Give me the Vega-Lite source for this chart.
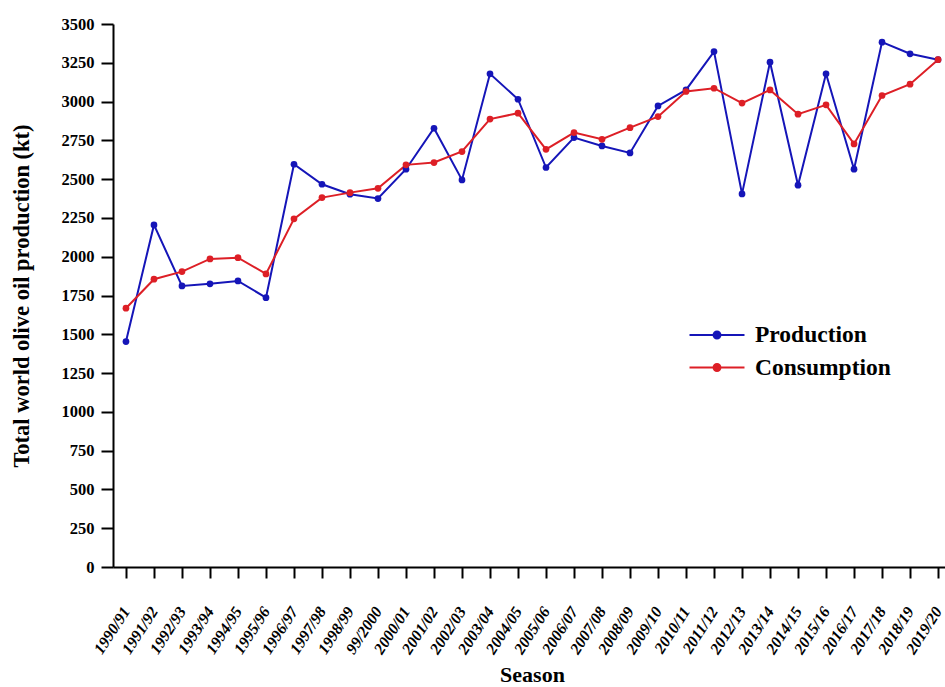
{
  "$schema": "https://vega.github.io/schema/vega-lite/v6.json",
  "autosize": {"type": "none"},
  "padding": {"left": 113, "top": 24, "right": 0, "bottom": 120},
  "width": 838,
  "height": 543,
  "background": "white",
  "config": {
    "view": {"stroke": null},
    "font": "Liberation Serif",
    "axis": {
      "domainColor": "black",
      "domainWidth": 2,
      "tickColor": "black",
      "tickWidth": 2,
      "tickSize": 11,
      "grid": false,
      "labelColor": "black",
      "titleColor": "black",
      "labelFont": "Liberation Serif",
      "titleFont": "Liberation Serif",
      "labelFontWeight": "bold",
      "titleFontWeight": "bold"
    }
  },
  "data": {
    "values": [
      {"season": "1990/91", "series": "Production", "value": 1453},
      {"season": "1991/92", "series": "Production", "value": 2205},
      {"season": "1992/93", "series": "Production", "value": 1812},
      {"season": "1993/94", "series": "Production", "value": 1825},
      {"season": "1994/95", "series": "Production", "value": 1844},
      {"season": "1995/96", "series": "Production", "value": 1736},
      {"season": "1996/97", "series": "Production", "value": 2596},
      {"season": "1997/98", "series": "Production", "value": 2467},
      {"season": "1998/99", "series": "Production", "value": 2403},
      {"season": "99/2000", "series": "Production", "value": 2375},
      {"season": "2000/01", "series": "Production", "value": 2564},
      {"season": "2001/02", "series": "Production", "value": 2828},
      {"season": "2002/03", "series": "Production", "value": 2495},
      {"season": "2003/04", "series": "Production", "value": 3179},
      {"season": "2004/05", "series": "Production", "value": 3015},
      {"season": "2005/06", "series": "Production", "value": 2575},
      {"season": "2006/07", "series": "Production", "value": 2768},
      {"season": "2007/08", "series": "Production", "value": 2714},
      {"season": "2008/09", "series": "Production", "value": 2669},
      {"season": "2009/10", "series": "Production", "value": 2972},
      {"season": "2010/11", "series": "Production", "value": 3075},
      {"season": "2011/12", "series": "Production", "value": 3322},
      {"season": "2012/13", "series": "Production", "value": 2405},
      {"season": "2013/14", "series": "Production", "value": 3254},
      {"season": "2014/15", "series": "Production", "value": 2461},
      {"season": "2015/16", "series": "Production", "value": 3179},
      {"season": "2016/17", "series": "Production", "value": 2564},
      {"season": "2017/18", "series": "Production", "value": 3383},
      {"season": "2018/19", "series": "Production", "value": 3308},
      {"season": "2019/20", "series": "Production", "value": 3270},
      {"season": "1990/91", "series": "Consumption", "value": 1668},
      {"season": "1991/92", "series": "Consumption", "value": 1855},
      {"season": "1992/93", "series": "Consumption", "value": 1904},
      {"season": "1993/94", "series": "Consumption", "value": 1986},
      {"season": "1994/95", "series": "Consumption", "value": 1994},
      {"season": "1995/96", "series": "Consumption", "value": 1889},
      {"season": "1996/97", "series": "Consumption", "value": 2244},
      {"season": "1997/98", "series": "Consumption", "value": 2381},
      {"season": "1998/99", "series": "Consumption", "value": 2413},
      {"season": "99/2000", "series": "Consumption", "value": 2441},
      {"season": "2000/01", "series": "Consumption", "value": 2592},
      {"season": "2001/02", "series": "Consumption", "value": 2607},
      {"season": "2002/03", "series": "Consumption", "value": 2678},
      {"season": "2003/04", "series": "Consumption", "value": 2887},
      {"season": "2004/05", "series": "Consumption", "value": 2925},
      {"season": "2005/06", "series": "Consumption", "value": 2692},
      {"season": "2006/07", "series": "Consumption", "value": 2800},
      {"season": "2007/08", "series": "Consumption", "value": 2757},
      {"season": "2008/09", "series": "Consumption", "value": 2832},
      {"season": "2009/10", "series": "Consumption", "value": 2903},
      {"season": "2010/11", "series": "Consumption", "value": 3065},
      {"season": "2011/12", "series": "Consumption", "value": 3086},
      {"season": "2012/13", "series": "Consumption", "value": 2990},
      {"season": "2013/14", "series": "Consumption", "value": 3075},
      {"season": "2014/15", "series": "Consumption", "value": 2919},
      {"season": "2015/16", "series": "Consumption", "value": 2979},
      {"season": "2016/17", "series": "Consumption", "value": 2727},
      {"season": "2017/18", "series": "Consumption", "value": 3039},
      {"season": "2018/19", "series": "Consumption", "value": 3112},
      {"season": "2019/20", "series": "Consumption", "value": 3270}
    ]
  },
  "mark": {"type": "line", "strokeWidth": 2, "point": {"filled": true, "size": 45, "opacity": 1}},
  "encoding": {
    "x": {
      "field": "season",
      "type": "ordinal",
      "sort": null,
      "scale": {"type": "point", "padding": 0.463},
      "axis": {
        "title": "Season",
        "titleFontSize": 22,
        "titlePadding": 8,
        "labelAngle": -57,
        "labelAlign": "right",
        "labelBaseline": "middle",
        "labelFontSize": 16,
        "labelFontStyle": "italic",
        "labelPadding": 30,
        "labelDx": -4
      }
    },
    "y": {
      "field": "value",
      "type": "quantitative",
      "scale": {"domain": [0, 3500], "nice": false, "zero": true},
      "axis": {
        "title": "Total world olive oil production (kt)",
        "titleFontSize": 22.5,
        "titlePadding": 28,
        "format": "d",
        "values": [0, 250, 500, 750, 1000, 1250, 1500, 1750, 2000, 2250, 2500, 2750, 3000, 3250, 3500],
        "labelFontSize": 16.5,
        "labelPadding": 7,
        "tickSize": 12
      }
    },
    "color": {
      "field": "series",
      "type": "nominal",
      "sort": null,
      "scale": {"domain": ["Production", "Consumption"], "range": ["#1515b8", "#dd1f26"]},
      "legend": {
        "title": null,
        "orient": "none",
        "legendX": 589,
        "legendY": 296,
        "padding": 0,
        "symbolType": "M-2,0H2M0.25,0A0.25,0.25 0 1 1 -0.25,0A0.25,0.25 0 1 1 0.25,0Z",
        "symbolSize": 756,
        "symbolStrokeWidth": 2,
        "labelOffset": 23,
        "rowPadding": 5.5,
        "labelFontSize": 23.5,
        "labelFontWeight": "bold",
        "labelColor": "black",
        "labelFont": "Liberation Serif",
        "encode": {"symbols": {"update": {"fill": {"scale": "color", "field": "value"}, "opacity": {"value": 1}}}}
      }
    }
  }
}
